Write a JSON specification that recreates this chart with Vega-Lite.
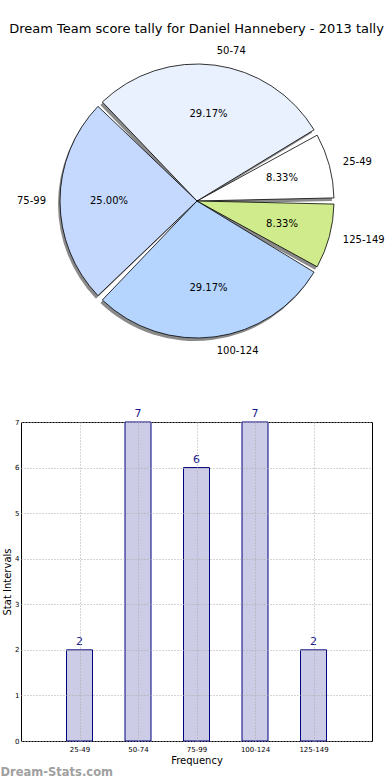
{
  "$schema": "https://vega.github.io/schema/vega-lite/v6.json",
  "padding": {"top": 23, "left": 0, "right": 0, "bottom": 0},
  "config": {"font": "DejaVu Sans", "view": {"stroke": null}},
  "data": {
    "values": [
      {"interval": "25-49", "count": 2, "pct": "8.33%"},
      {"interval": "50-74", "count": 7, "pct": "29.17%"},
      {"interval": "75-99", "count": 6, "pct": "25.00%"},
      {"interval": "100-124", "count": 7, "pct": "29.17%"},
      {"interval": "125-149", "count": 2, "pct": "8.33%"}
    ]
  },
  "transform": [{"window": [{"op": "row_number", "as": "rank"}]}],
  "align": "none",
  "spacing": 48,
  "vconcat": [
    {
      "width": 351,
      "height": 306,
      "title": {"text": "Dream Team score tally for Daniel Hannebery - 2013 tally", "fontSize": 13, "fontWeight": "normal", "color": "#000", "anchor": "middle", "offset": 10},
      "view": {"stroke": null},
      "layer": [
        {
          "mark": {"type": "arc", "outerRadius": 137, "padAngle": 0.045, "fill": "#8a8a8a", "x": 174, "y": 151},
          "encoding": {
            "theta": {"field": "count", "type": "quantitative", "stack": true, "scale": {"range": [1.5708, -4.7124]}},
            "order": {"field": "rank", "type": "quantitative"},
            "detail": {"field": "interval"}
          }
        },
        {
          "mark": {"type": "arc", "outerRadius": 137, "padAngle": 0.045, "stroke": "#000", "strokeWidth": 0.8, "x": 176, "y": 148},
          "encoding": {
            "theta": {"field": "count", "type": "quantitative", "stack": true},
            "order": {"field": "rank", "type": "quantitative"},
            "color": {"field": "interval", "type": "nominal", "legend": null,
              "scale": {"domain": ["25-49", "50-74", "75-99", "100-124", "125-149"], "range": ["#ffffff", "#e9f1ff", "#c5d9ff", "#b5d5ff", "#d0eb8c"]}}
          }
        },
        {
          "mark": {"type": "text", "radius": 88, "fontSize": 10, "color": "#000", "x": 176, "y": 148},
          "encoding": {
            "theta": {"field": "count", "type": "quantitative", "stack": true},
            "order": {"field": "rank", "type": "quantitative"},
            "detail": {"field": "interval"},
            "text": {"field": "pct"}
          }
        },
        {
          "mark": {"type": "text", "radius": 151, "fontSize": 10, "color": "#000", "baseline": "middle", "x": 176, "y": 148, "align": {"expr": "datum.interval === '75-99' ? 'right' : 'left'"}},
          "encoding": {
            "theta": {"field": "count", "type": "quantitative", "stack": true},
            "order": {"field": "rank", "type": "quantitative"},
            "detail": {"field": "interval"},
            "text": {"field": "interval"}
          }
        }
      ]
    },
    {
      "width": 351,
      "height": 319,
      "view": {"stroke": "#000", "strokeWidth": 1},
      "title": {"text": "Dream-Stats.com", "orient": "bottom", "anchor": "start", "frame": "bounds", "fontSize": 11.5, "fontWeight": "bold", "color": "#a0a0a0", "offset": 2, "dx": -2},
      "encoding": {
        "x": {"field": "interval", "type": "ordinal", "sort": ["25-49", "50-74", "75-99", "100-124", "125-149"],
          "scale": {"type": "point", "padding": 1},
          "axis": {"title": "Frequency", "labelAngle": 0, "labelFontSize": 7, "titleFontSize": 10, "titleFontWeight": "normal", "ticks": false, "domain": false, "grid": true, "gridDash": [1, 2], "gridColor": "#aaa", "gridOpacity": 1, "labelPadding": 4, "titlePadding": 3, "labelColor": "#000", "titleColor": "#000", "zindex": 1}},
        "y": {"field": "count", "type": "quantitative",
          "scale": {"domain": [0, 7], "nice": false},
          "axis": {"title": "Stat Intervals", "values": [0, 1, 2, 3, 4, 5, 6, 7], "format": "d", "labelFontSize": 7, "titleFontSize": 10, "titleFontWeight": "normal", "ticks": false, "domain": false, "grid": true, "gridDash": [1, 2], "gridColor": "#aaa", "gridOpacity": 1, "labelPadding": 2, "titlePadding": 2, "labelColor": "#000", "titleColor": "#000", "zindex": 1}}
      },
      "layer": [
        {"mark": {"type": "bar", "width": 26, "fill": "#ccccE6", "stroke": "#000080", "strokeWidth": 1}},
        {"mark": {"type": "text", "baseline": "bottom", "dy": -3, "fontSize": 11, "color": "#1a1a8c"}, "encoding": {"text": {"field": "count"}}}
      ]
    }
  ]
}
